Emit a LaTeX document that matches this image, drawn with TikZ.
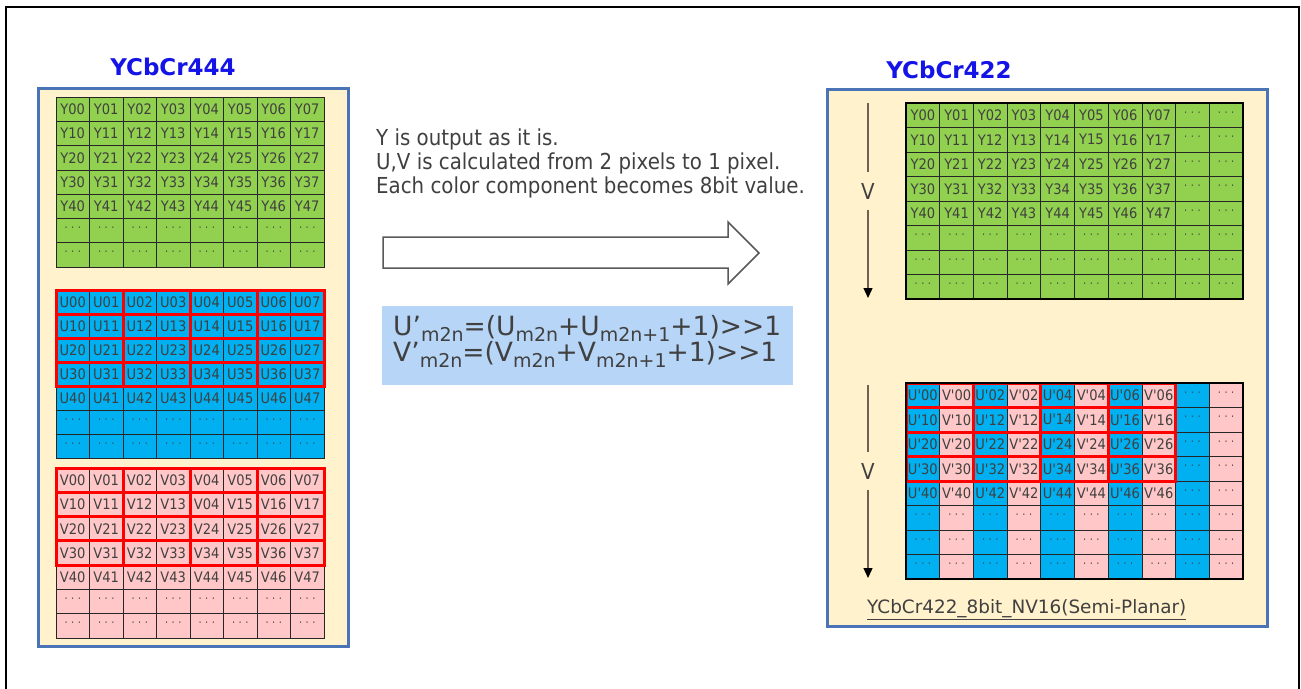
\documentclass[tikz,border=0pt]{standalone}
\usepackage{fontspec}
\setmainfont{DejaVu Sans}
\newfontfamily\cf[FakeStretch=0.9,Ligatures=TeXOff]{DejaVu Sans}
\usetikzlibrary{arrows.meta}
\definecolor{ygreen}{HTML}{92D050}
\definecolor{ublue}{HTML}{00B0F0}
\definecolor{vpink}{HTML}{FFC7C7}
\definecolor{cream}{HTML}{FFF2CC}
\definecolor{panelblue}{HTML}{4A74B5}
\definecolor{fboxc}{HTML}{B7D5F7}
\definecolor{txt}{HTML}{404040}
\definecolor{titleblue}{HTML}{1414E6}
\definecolor{arrline}{HTML}{6E6254}
\newcommand{\dts}{\raisebox{2.5pt}{\fontsize{11}{11}\selectfont ·\hspace{3.5pt}·\hspace{3.5pt}·}}
\newcommand{\lsub}[1]{\raisebox{-6pt}{\fontsize{19}{19}\selectfont #1}}
\tikzset{
  cell/.style={draw=black!85, line width=0.8pt, inner sep=0pt, outer sep=0pt, anchor=north west,
    minimum width=33.5pt, minimum height=24.3pt, text=txt, font=\cf\fontsize{14.5}{14.5}\selectfont},
  rcell/.style={cell, minimum width=33.7pt, minimum height=24.5pt},
  redbox/.style={draw=red, line width=3pt},
  panel/.style={draw=panelblue, fill=cream, line width=3pt},
  ttl/.style={font=\bfseries\fontsize{23}{23}\selectfont, text=titleblue, anchor=base, inner sep=0pt},
  midtext/.style={font=\cf\fontsize{22}{22}\selectfont, text=txt, anchor=base west, inner sep=0pt},
  ftext/.style={font=\fontsize{26.5}{26.5}\selectfont, text=txt, anchor=base west, inner sep=0pt},
  vlab/.style={font=\cf\fontsize{22}{22}\selectfont, text=txt, inner sep=0pt, minimum height=37pt},
  vline/.style={draw=arrline, line width=1.3pt},
  thickborder/.style={draw=black, line width=2.5pt}
}
\begin{document}
\begin{tikzpicture}[x=1pt,y=-1pt]
\useasboundingbox (0,0) rectangle (1301,688);
\fill[white] (0,0) rectangle (1301,688);
\draw[line width=2pt] (6,7) rectangle (1299,700);

% ---------- left panel ----------
\draw[panel] (38,88) rectangle (348,646);
\node[ttl] (t444) at (173,75) {YCbCr444};

% Y plane
\foreach \r in {0,...,6} \foreach \c in {0,...,7} {
  \ifnum\r<5 \edef\lab{Y\r\c}\else\def\lab{\dts}\fi
  \node[cell, fill=ygreen] (ly-\r-\c) at ({56+\c*33.5},{97+\r*24.3}) {\lab};
}
% U plane
\foreach \r in {0,...,6} \foreach \c in {0,...,7} {
  \ifnum\r<5 \edef\lab{U\r\c}\else\def\lab{\dts}\fi
  \node[cell, fill=ublue, minimum height=24pt] (lu-\r-\c) at ({56+\c*33.5},{290+\r*24}) {\lab};
}
\foreach \r in {0,...,3} \foreach \k in {0,...,3}
  \draw[redbox] ({56+2*\k*33.5},{290+\r*24}) rectangle ++(67,24);
% V plane
\foreach \r in {0,...,6} \foreach \c in {0,...,7} {
  \ifnum\r<5 \edef\lab{V\r\c}\else\def\lab{\dts}\fi
  \ifnum\r\c=14 \def\lab{V04}\fi
  \node[cell, fill=vpink] (lv-\r-\c) at ({56+\c*33.5},{468+\r*24.3}) {\lab};
}
\foreach \r in {0,...,3} \foreach \k in {0,...,3}
  \draw[redbox] ({56+2*\k*33.5},{468+\r*24.3}) rectangle ++(67,24.3);

% ---------- middle ----------
\node[midtext] (m1) at (376,145) {Y is output as it is.};
\node[midtext] (m2) at (376,169) {U,V is calculated from 2 pixels to 1 pixel.};
\node[midtext] (m3) at (376,193) {Each color component becomes 8bit value.};

\draw[draw=black!65, fill=white, line width=1.5pt]
  (383,237) -- (728,237) -- (728,222) -- (759,253) -- (728,284) -- (728,268) -- (383,268) -- cycle;

\node[fill=fboxc, minimum width=411pt, minimum height=79pt, anchor=north west, inner sep=0pt] (fb) at (382,306) {};
\node[ftext] (f1) at (393,335) {U’\lsub{m2n}=(U\lsub{m2n}+U\lsub{m2n+1}+1)>{}>1};
\node[ftext] (f2) at (393,361.5) {V’\lsub{m2n}=(V\lsub{m2n}+V\lsub{m2n+1}+1)>{}>1};

% ---------- right panel ----------
\draw[panel] (827,89) rectangle (1267,626);
\node[ttl] (t422) at (949,78) {YCbCr422};

% Y plane
\foreach \r in {0,...,7} \foreach \c in {0,...,9} {
  \def\lab{\dts}
  \ifnum\r<5 \ifnum\c<8 \edef\lab{Y\r\c}\fi\fi
  \node[rcell, fill=ygreen] (ry-\r-\c) at ({906+\c*33.7},{103+\r*24.5}) {\lab};
}
\draw[thickborder] (906,103) rectangle (1243,299);

% UV plane
\foreach \r in {0,...,7} \foreach \c in {0,...,9} {
  \def\lab{\dts}
  \pgfmathtruncatemacro{\odd}{mod(\c,2)}
  \pgfmathtruncatemacro{\ev}{\c-\odd}
  \ifnum\odd=0 \def\col{ublue}\else\def\col{vpink}\fi
  \ifnum\r<5 \ifnum\c<8
    \ifnum\odd=0 \edef\lab{U'\r\ev}\else\edef\lab{V'\r\ev}\fi
  \fi\fi
  \node[rcell, fill=\col] (ruv-\r-\c) at ({906+\c*33.7},{383+\r*24.5}) {\lab};
}
\foreach \r in {0,...,3} \foreach \k in {0,...,3}
  \draw[redbox] ({906+2*\k*33.7},{383+\r*24.5}) rectangle ++(67.4,24.5);
\draw[thickborder] (906,383) rectangle (1243,579);

% V arrows
\coordinate (va1) at (868,103);
\coordinate (vb1) at (868,298);
\node[vlab] (v1) at (868,191) {V};
\draw[vline] (va1) -- (v1.north);
\draw[vline, -{Triangle[width=9pt,length=10pt,color=black]}] (v1.south) -- (vb1);

\coordinate (va2) at (868,385);
\coordinate (vb2) at (868,578);
\node[vlab] (v2) at (868,471) {V};
\draw[vline] (va2) -- (v2.north);
\draw[vline, -{Triangle[width=9pt,length=10pt,color=black]}] (v2.south) -- (vb2);

\node[anchor=base west, inner sep=0pt, font=\fontsize{18.4}{18.4}\selectfont, text=txt] (lbl) at (867,613)
  {\underline{YCbCr422\_8bit\_NV16(Semi-Planar)}};
\end{tikzpicture}
\end{document}
